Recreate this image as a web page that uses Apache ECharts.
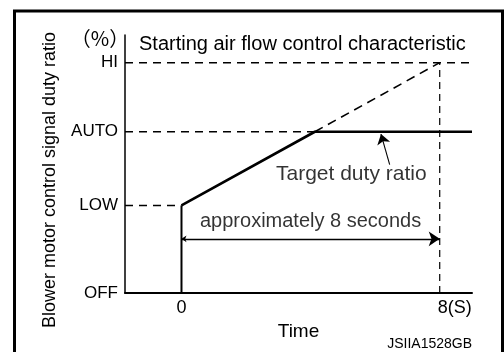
<!DOCTYPE html>
<html>
<head>
<meta charset="utf-8">
<script src="https://cdn.jsdelivr.net/npm/echarts@6/dist/echarts.min.js"></script>
<style>
  html, body { margin: 0; padding: 0; background: #fff; }
  #chart { width: 504px; height: 352px; }
</style>
</head>
<body>
<div id="chart"></div>
<script>
// Duty ratio levels (arbitrary %, OFF = 0, HI = 100)
const levelNames = ['OFF', 'LOW', 'AUTO', 'HI'];
const levelValues = [0, 38, 70, 100];

// Time axis (seconds)
const timeTicks = [0, 8];
const timeTickLabels = ['0', '8(S)'];
const timeMin = -1.75;
const timeMax = 9;

// Target duty ratio: ramps from LOW at 0 s and holds at AUTO
const targetTime = [0, 4.13, 9];
const targetDuty = [38, 70, 70];

// Continuation of the ramp up to HI at 8 s
const rampTime = [4.13, 8];
const rampDuty = [70, 100];

// Step from OFF to LOW at 0 s
const stepTime = [0, 0];
const stepDuty = [0, 38];

// Span arrow for "approximately 8 seconds"
const spanTime = [0, 8];
const spanDuty = 23.5;

// Pointer from label to the target line
const pointerTime = [6.45, 6.18];
const pointerDuty = [55.7, 69];

const FONT = '"Liberation Sans", Arial, Helvetica, sans-serif';

const zip = (xs, ys) => xs.map((x, i) => [x, ys[i]]);
const dashed = (data, width, dash) => ({
  type: 'line', data, symbol: 'none', silent: true,
  lineStyle: { color: '#000', width: width, type: dash }
});

const chart = echarts.init(document.getElementById('chart'), null, { renderer: 'canvas' });

const option = {
  animation: false,
  backgroundColor: '#fff',
  title: {
    text: 'Starting air flow control characteristic',
    left: 134, top: 29,
    textStyle: { fontFamily: FONT, fontSize: 20, fontWeight: 'normal', color: '#000' }
  },
  grid: { left: 125, right: 32, top: 35, bottom: 59, containLabel: false },
  xAxis: {
    type: 'value', min: timeMin, max: timeMax,
    name: 'Time', nameLocation: 'middle', nameGap: 26,
    nameTextStyle: { fontFamily: FONT, fontSize: 19, color: '#000' },
    axisLine: { show: true, onZero: false, lineStyle: { color: '#000', width: 2 } },
    axisTick: { show: false },
    splitLine: { show: false },
    axisLabel: {
      customValues: timeTicks,
      margin: 6,
      fontFamily: FONT, fontSize: 18, color: '#000',
      formatter: v => {
        const i = timeTicks.indexOf(v);
        const t = i >= 0 ? timeTickLabels[i] : '';
        return v === 8 ? '{s|' + t + '}' : t;
      },
      rich: { s: { fontFamily: FONT, fontSize: 18, color: '#000', padding: [0, 0, 0, 30] } }
    }
  },
  yAxis: {
    type: 'value', min: 0, max: 112,
    axisLine: { show: true, onZero: false, lineStyle: { color: '#000', width: 1.5 } },
    axisTick: { show: false },
    splitLine: { show: false },
    axisLabel: {
      customValues: levelValues,
      margin: 7,
      fontFamily: FONT, fontSize: 17, color: '#000',
      formatter: v => {
        const i = levelValues.indexOf(v);
        return i >= 0 ? levelNames[i] : '';
      }
    }
  },
  graphic: [
    {
      type: 'rect', silent: true,
      shape: { x: 14.5, y: 11, width: 488, height: 400 },
      style: { fill: null, stroke: '#000', lineWidth: 3 }
    },
    {
      type: 'text', silent: true, x: 50, y: 180, rotation: Math.PI / 2,
      style: {
        text: 'Blower motor control signal duty ratio',
        fontFamily: FONT, fontSize: 18, fill: '#000',
        align: 'center', verticalAlign: 'middle'
      }
    },
    {
      type: 'text', silent: true, x: 100, y: 38,
      style: {
        text: '（%）',
        fontFamily: '"Noto Sans CJK JP", ' + FONT, fontSize: 20, fill: '#000',
        align: 'center', verticalAlign: 'middle'
      }
    },
    {
      type: 'text', silent: true, x: 472, y: 344,
      style: {
        text: 'JSIIA1528GB',
        fontFamily: FONT, fontSize: 14, fill: '#000',
        align: 'right', verticalAlign: 'middle'
      }
    }
  ],
  series: [
    // Reference levels
    dashed([[timeMin, levelValues[3]], [timeMax, levelValues[3]]], 1.5, [8, 6]),
    dashed([[timeMin, levelValues[2]], [targetTime[1], levelValues[2]]], 1.5, [8, 6]),
    dashed([[timeMin, levelValues[1]], [0, levelValues[1]]], 1.5, [8, 6]),
    dashed([[8, 0], [8, levelValues[3]]], 1.2, [7, 5]),
    // Ramp continuation
    dashed(zip(rampTime, rampDuty), 1.6, [9, 6]),
    // Step at 0 s
    {
      type: 'line', data: zip(stepTime, stepDuty), symbol: 'none',
      lineStyle: { color: '#000', width: 2 }
    },
    // Target duty ratio
    {
      type: 'line', data: zip(targetTime, targetDuty), symbol: 'none',
      lineStyle: { color: '#000', width: 2.6 }
    },
    // Span arrow and pointer
    {
      type: 'lines', coordinateSystem: 'cartesian2d', silent: true,
      symbol: ['arrow', 'arrow'], symbolSize: [5, 11],
      lineStyle: { color: '#000', width: 1.3, curveness: 0, opacity: 1 },
      data: [{ coords: [[spanTime[0], spanDuty], [spanTime[1], spanDuty]] }]
    },
    {
      type: 'lines', coordinateSystem: 'cartesian2d', silent: true,
      symbol: ['none', 'arrow'], symbolSize: [5, 10],
      lineStyle: { color: '#000', width: 1.1, curveness: 0, opacity: 1 },
      data: [{ coords: [[pointerTime[0], pointerDuty[0]], [pointerTime[1], pointerDuty[1]]] }]
    },
    // Annotation texts
    {
      type: 'scatter', symbolSize: 0, silent: true,
      data: [
        { value: [4.0, 30.9], name: 'approximately 8 seconds', label: { fontSize: 20 } },
        { value: [5.26, 51.7], name: 'Target duty ratio', label: { fontSize: 21 } }
      ],
      label: {
        show: true, position: 'inside',
        formatter: p => p.name,
        fontFamily: FONT, color: '#000'
      }
    }
  ]
};

chart.setOption(option);
</script>
</body>
</html>
